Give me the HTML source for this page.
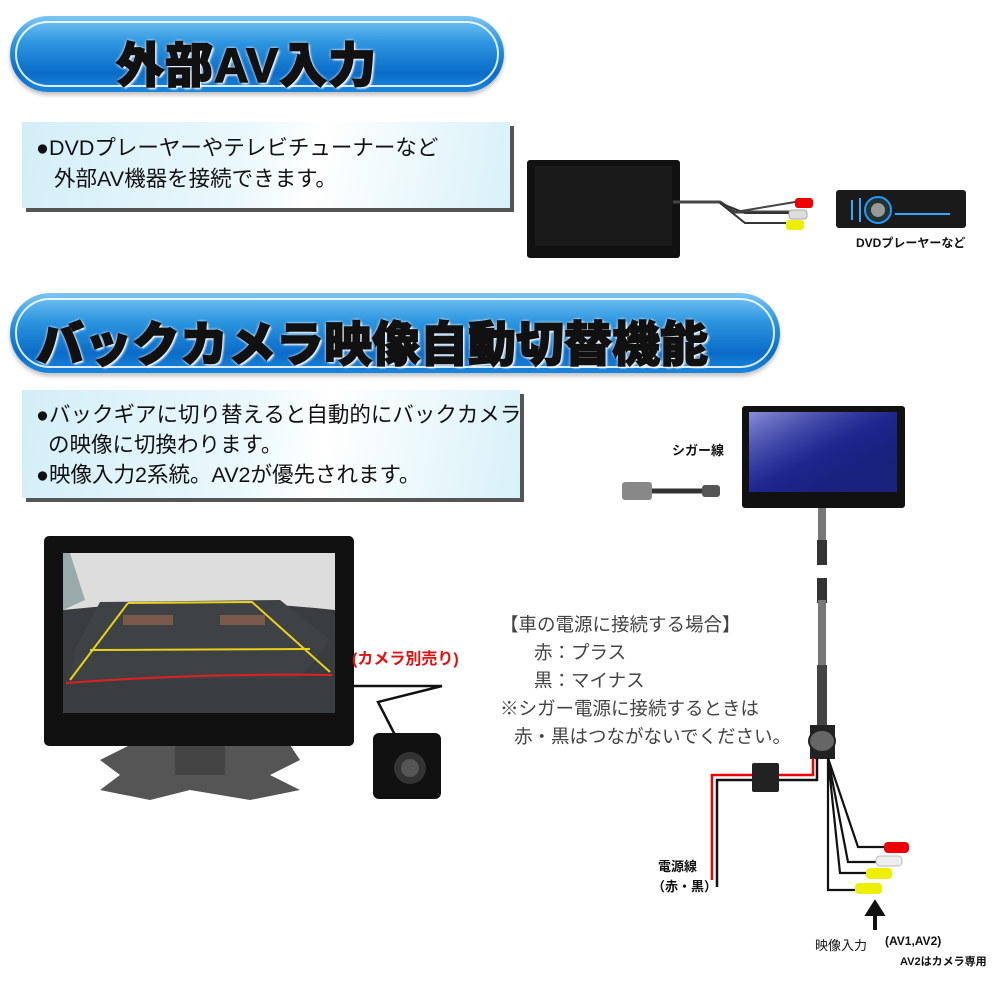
<!DOCTYPE html>
<html><head><meta charset="utf-8"><style>
body{margin:0;width:1000px;height:996px;background:#fff;position:relative;overflow:hidden;font-family:"Liberation Sans","Noto Sans CJK JP",sans-serif;}
.a{position:absolute;white-space:nowrap;}
.pill{position:absolute;border-radius:45px;background:linear-gradient(#7cc6f4 0%,#2d96e0 35%,#0a6cc8 75%,#1b86dc 100%);box-shadow:0 3px 4px rgba(0,0,0,.25);}
.pill:after{content:"";position:absolute;left:5px;right:5px;top:5px;bottom:5px;border:2px solid rgba(255,255,255,.85);border-radius:40px;}
.ttl{position:absolute;font-weight:900;color:#111;-webkit-text-stroke:1.5px #111;text-shadow:0 0 3px #fff,0 0 3px #fff,2px 2px 2px #fff;z-index:2;}
.box{position:absolute;background:linear-gradient(100deg,#d3eef8 0%,#eaf8fc 45%,#ffffff 60%,#d8f1f8 100%);box-shadow:4px 4px 0 #555;}
.bt{font-size:21.5px;color:#111;}
.gt{font-size:18.5px;color:#444;}
</style></head><body>

<div class="pill" style="left:10px;top:16px;width:494px;height:76px"></div>
<div class="ttl" style="left:116px;top:26px;font-size:48px;letter-spacing:1px">外部AV入力</div>

<div class="box" style="left:22px;top:122px;width:488px;height:86px"></div>
<div class="a bt" style="left:36px;top:131px">●DVDプレーヤーやテレビチューナーなど</div>
<div class="a bt" style="left:54px;top:162px">外部AV機器を接続できます。</div>

<svg class="a" style="left:0;top:0" width="1000" height="996">
<rect x="527" y="160" width="153" height="98" rx="3" fill="#111"/>
<rect x="535" y="166" width="137" height="80" fill="#1a1a1a"/>
<path d="M673 202 L720 202 L735 212 L790 212" stroke="#444" stroke-width="3" fill="none"/>
<path d="M720 203 L745 213 L790 213" stroke="#333" stroke-width="2" fill="none"/>
<path d="M720 203 L745 223 L790 223" stroke="#333" stroke-width="2" fill="none"/>
<path d="M735 212 L795 202" stroke="#444" stroke-width="2" fill="none"/>
<rect x="795" y="198" width="18" height="10" rx="3" fill="#e00"/>
<rect x="789" y="210" width="18" height="9" rx="3" fill="#ddd" stroke="#aaa"/>
<rect x="786" y="220" width="18" height="10" rx="3" fill="#ee0"/>
<rect x="836" y="190" width="130" height="38" rx="3" fill="#1a1a1a"/>
<circle cx="878" cy="210" r="13" fill="#233" stroke="#29f" stroke-width="2"/>
<circle cx="878" cy="210" r="7" fill="#999"/>
<path d="M852 200 v20 M860 198 v24 M895 214 h55" stroke="#3af" stroke-width="2"/>
</svg>
<div class="a" style="left:856px;top:234px;font-size:12px;font-weight:bold;color:#111">DVDプレーヤーなど</div>

<div class="pill" style="left:10px;top:293px;width:770px;height:80px"></div>
<div class="ttl" style="left:36px;top:305px;font-size:48px;letter-spacing:0px">バックカメラ映像自動切替機能</div>

<div class="box" style="left:22px;top:390px;width:498px;height:108px"></div>
<div class="a bt" style="left:36px;top:398px">●バックギアに切り替えると自動的にバックカメラ</div>
<div class="a bt" style="left:48px;top:428px">の映像に切換わります。</div>
<div class="a bt" style="left:36px;top:458px">●映像入力2系統。AV2が優先されます。</div>

<svg class="a" style="left:0;top:0" width="1000" height="996">
<path d="M100 760 L130 745 L180 742 L250 742 L290 745 L300 760 L270 775 L300 790 L250 800 L190 790 L150 800 L100 790 L120 775 Z" fill="#555"/>
<rect x="175" y="730" width="50" height="45" fill="#444"/>
<rect x="44" y="536" width="310" height="210" rx="5" fill="#111"/>
<rect x="63" y="553" width="272" height="160" fill="#3a3d40"/>
<path d="M63 553 H335 V610 Q200 595 63 610 Z" fill="#ddd"/>
<path d="M63 553 L70 553 L85 600 L63 610 Z" fill="#9aa"/>
<path d="M100 602 L280 600 L330 640 L300 678 L70 680 L75 650 Z" fill="#3e4245"/>
<path d="M128 603 L252 602 L330 672 M128 603 L70 680 M90 650 L310 649" stroke="#e8d21a" stroke-width="2" fill="none"/>
<path d="M66 683 Q200 673 332 675" stroke="#e02020" stroke-width="2" fill="none"/>
<rect x="123" y="615" width="50" height="10" fill="#7a5a48"/>
<rect x="220" y="615" width="45" height="10" fill="#7a5a48"/>
<path d="M354 686 L442 686 L378 702 L395 735" stroke="#111" stroke-width="2.5" fill="none"/>
<rect x="373" y="733" width="68" height="66" rx="6" fill="#111"/>
<circle cx="410" cy="768" r="16" fill="#333"/>
<circle cx="410" cy="768" r="9" fill="#555"/>
<rect x="742" y="406" width="163" height="102" rx="3" fill="#111"/>
<rect x="749" y="412" width="148" height="80" fill="#1a237e"/>
<rect x="749" y="412" width="148" height="80" fill="url(#g)"/>
<defs><linearGradient id="g" x1="0" y1="0" x2="1" y2="1"><stop offset="0" stop-color="#8a8fd8"/><stop offset=".5" stop-color="#1f2a9a" stop-opacity=".6"/><stop offset="1" stop-color="#0d145e" stop-opacity="0"/></linearGradient></defs>
<rect x="818" y="508" width="8" height="42" fill="#777"/>
<rect x="817" y="540" width="10" height="25" fill="#333"/>
<rect x="817" y="578" width="10" height="25" fill="#333"/>
<rect x="818" y="600" width="8" height="65" fill="#777"/>
<rect x="817" y="665" width="10" height="60" fill="#444"/>
<path d="M640 491 H712" stroke="#333" stroke-width="5"/>
<rect x="622" y="482" width="30" height="18" rx="3" fill="#888"/>
<rect x="702" y="485" width="18" height="12" rx="3" fill="#555"/>
<rect x="810" y="725" width="25" height="34" fill="#222"/>
<ellipse cx="822" cy="741" rx="13" ry="11" fill="#666" stroke="#222" stroke-width="2"/>
<path d="M813 758 V775 H712 V880" stroke="#e00" stroke-width="2.5" fill="none"/>
<path d="M817 758 V780 H717 V887" stroke="#111" stroke-width="2.5" fill="none"/>
<rect x="752" y="763" width="27" height="29" rx="2" fill="#222"/>
<path d="M828 758 L858 847 H885 M828 758 L848 862 H876 M828 758 L840 873 H866 M828 758 L828 890 H855" stroke="#111" stroke-width="2.2" fill="none"/>
<rect x="884" y="842" width="25" height="11" rx="4" fill="#e00"/>
<rect x="876" y="856" width="26" height="10" rx="4" fill="#eee" stroke="#bbb"/>
<rect x="866" y="868" width="26" height="11" rx="4" fill="#ee0"/>
<rect x="855" y="883" width="27" height="11" rx="4" fill="#ee0"/>
<path d="M875 930 V913 M868 914 L875 903 L882 914 Z" stroke="#111" stroke-width="4" fill="#111"/>
</svg>
<div class="a" style="left:352px;top:645px;font-size:16px;color:#e31010;font-weight:bold">(カメラ別売り)</div>
<div class="a" style="left:672px;top:440px;font-size:13px;font-weight:bold;color:#111">シガー線</div>

<div class="a gt" style="left:500px;top:611px">【車の電源に接続する場合】</div>
<div class="a gt" style="left:534px;top:639px">赤：プラス</div>
<div class="a gt" style="left:534px;top:667px">黒：マイナス</div>
<div class="a gt" style="left:500px;top:695px">※シガー電源に接続するときは</div>
<div class="a gt" style="left:514px;top:723px">赤・黒はつながないでください。</div>

<div class="a" style="left:658px;top:856px;font-size:13px;font-weight:bold;color:#111">電源線</div>
<div class="a" style="left:652px;top:876px;font-size:13px;font-weight:bold;color:#111">（赤・黒）</div>
<div class="a" style="left:815px;top:935px;font-size:13px;color:#111">映像入力</div>
<div class="a" style="left:885px;top:934px;font-size:12px;font-weight:bold;color:#111">(AV1,AV2)</div>
<div class="a" style="left:900px;top:953px;font-size:11px;font-weight:bold;color:#111">AV2はカメラ専用</div>
</body></html>
